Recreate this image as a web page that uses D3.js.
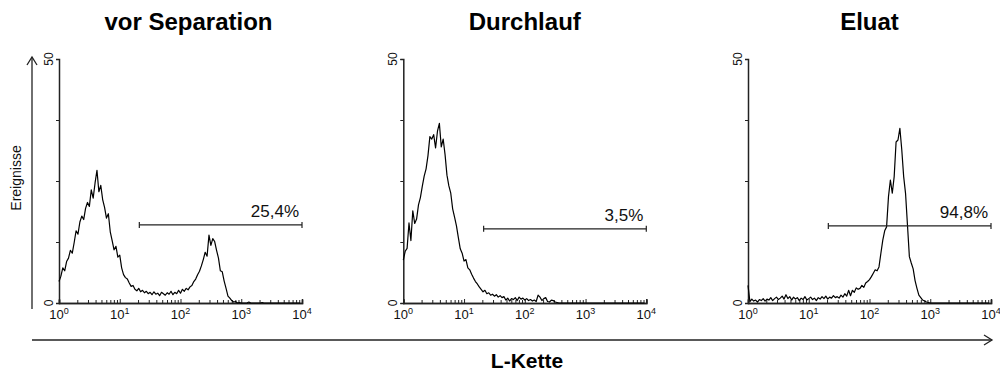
<!DOCTYPE html>
<html>
<head>
<meta charset="utf-8">
<script src="https://cdn.jsdelivr.net/npm/d3@7"></script>
<style>
  html, body { margin: 0; padding: 0; background: #fff; }
  svg { display: block; font-family: "Liberation Sans", Arial, sans-serif; }
</style>
</head>
<body>
<svg id="chart" width="1000" height="372"></svg>
<script>
// Histogram channels: 32 log-spaced channels per decade, 10^0 .. 10^4
const CHANNELS_PER_DECADE = 32;

const panelTitles = ["vor Separation", "Durchlauf", "Eluat"];
const gateLabels = ["25,4%", "3,5%", "94,8%"];
const gateLow = [21, 21, 21];
const gateHigh = [10000, 10000, 10000];
const gateLevel = [16.0, 15.2, 15.8];
const yTickValues = [0, 12.5, 25, 37.5, 50];
const yTickLabels = ["0", "", "", "", "50"];
const xDecades = [0, 1, 2, 3, 4];

// event counts per channel
const countsVor = [
  4.4,5.5,7.2,6.6,8.5,9.2,10.8,10.2,12.4,14.8,
  14.1,16.6,17.8,17.1,19.4,20.6,19.8,23.2,21.5,24.6,
  27.2,22.8,24.1,21.2,19.6,17.4,18.3,14.6,12.8,10.9,
  11.6,9.4,9.8,7.2,5.8,5.2,4.9,4.1,3.4,3.6,
  2.8,2.5,3.0,2.3,2.6,2.1,2.4,1.9,2.2,1.7,
  2.3,1.8,2.0,1.5,2.2,1.9,1.6,2.1,1.8,2.4,
  1.7,2.2,1.9,2.6,2.0,2.8,2.4,3.0,2.7,3.3,
  3.6,4.4,4.9,5.8,6.5,7.6,8.9,10.4,9.6,13.9,
  11.8,13.2,12.6,10.8,9.2,6.6,6.4,4.5,3.0,1.4,
  1.0,0.5,0.2,0.3,0,0.1,0,0,0,0,
  0.2,0,0,0,0,0,0,0.1,0,0,
  0,0,0,0,0,0,0,0,0,0,
  0,0,0,0,0,0,0,0
];

const countsDurchlauf = [
  8.8,10.6,11.2,16.4,12.8,18.9,16.3,17.2,20.1,21.6,
  23.9,26.0,27.5,30.2,34.1,33.6,34.5,31.8,35.2,36.8,
  32.0,33.6,30.4,26.2,24.0,22.5,19.3,17.6,15.8,13.4,
  11.1,10.2,8.6,8.9,7.2,6.8,5.9,5.1,4.4,3.9,
  3.3,2.8,2.3,2.6,1.9,2.1,1.6,1.8,1.4,1.7,
  1.2,1.5,1.1,1.3,0.6,1.0,0.4,0.9,0.7,1.1,
  0.5,1.2,0.8,1.0,0.6,0.9,0.5,0.7,0.4,0.6,
  0.3,1.6,1.2,0.5,0.9,1.1,0.3,0.2,0.6,0.5,
  0.2,0.1,0,0,0,0,0,0,0,0,
  0,0,0,0,0,0,0,0,0,0,
  0,0,0,0,0,0,0,0,0,0,
  0,0,0,0,0,0,0,0,0,0,
  0,0,0,0,0,0,0,0
];

const countsEluat = [
  3.6,0.3,0.8,0.4,0.6,0.2,0.7,0.5,0.9,0.4,
  0.8,0.6,1.1,0.5,0.9,1.2,0.7,1.0,1.4,0.8,
  1.7,0.9,1.3,0.6,1.2,0.8,1.1,0.5,1.0,0.7,
  1.3,0.6,0.9,1.2,0.7,1.0,0.5,1.1,0.8,1.3,
  0.9,1.4,0.8,1.2,1.0,1.5,1.1,1.3,1.0,1.6,
  1.2,1.9,1.4,2.6,1.5,2.6,2.2,3.1,2.8,3.0,
  3.6,3.2,4.1,4.4,4.8,5.4,6.1,6.8,6.6,7.4,
  10.2,12.9,14.8,15.6,21.8,25.2,22.5,25.9,33.0,33.4,
  35.8,31.4,25.9,22.4,16.0,9.5,8.2,7.0,4.6,3.0,
  1.6,1.1,0.6,0.4,0.2,0.1,0,0,0,0,
  0,0,0,0,0,0,0,0,0,0,
  0,0,0,0,0,0,0,0,0,0,
  0,0,0,0,0,0,0,0
];

const panelCounts = [countsVor, countsDurchlauf, countsEluat];

// layout
const panelLeft = [59, 403.3, 748];
const panelWidth = 243;
const plotTop = 59, plotBottom = 303;
const axisColor = "#222";

const svg = d3.select("#chart");

const y = d3.scaleLinear().domain([0, 50]).range([plotBottom, plotTop]);

panelCounts.forEach((counts, p) => {
  const x = d3.scaleLog().domain([1, 1e4]).range([panelLeft[p], panelLeft[p] + panelWidth]);
  const g = svg.append("g");

  // title
  g.append("text")
    .attr("x", panelLeft[p] + panelWidth / 2 + (p === 0 ? 8 : 0))
    .attr("y", 30)
    .attr("text-anchor", "middle")
    .attr("font-size", 24)
    .attr("font-weight", "bold")
    .text(panelTitles[p]);

  // x axis with minor log ticks pointing inward
  const minor = [];
  for (let k = 0; k < 4; k++) for (let m = 2; m <= 9; m++) minor.push(m * 10 ** k);
  const xAxisMinor = d3.axisBottom(x).tickValues(minor).tickSize(-3).tickFormat("");
  const xAxisMajor = d3.axisBottom(x).tickValues(xDecades.map(d => 10 ** d)).tickSize(-4).tickFormat("");
  const gxMinor = g.append("g").attr("transform", `translate(0,${plotBottom})`).call(xAxisMinor);
  const gxMajor = g.append("g").attr("transform", `translate(0,${plotBottom})`).call(xAxisMajor);
  [gxMinor, gxMajor].forEach(a => {
    a.select(".domain").attr("stroke", axisColor).attr("stroke-width", 1.5);
    a.selectAll(".tick line").attr("stroke", axisColor).attr("stroke-width", 1);
  });

  // x tick labels: 10 with superscript exponent
  xDecades.forEach(k => {
    const t = g.append("text")
      .attr("x", x(10 ** k))
      .attr("y", 319)
      .attr("text-anchor", "middle")
      .attr("font-size", 13)
      .attr("fill", "#111");
    t.append("tspan").text("10");
    t.append("tspan").attr("font-size", 9).attr("dy", -5).text(String(k));
  });

  // y axis
  const yAxis = d3.axisLeft(y).tickValues(yTickValues).tickSize(3).tickFormat("");
  const gy = g.append("g").attr("transform", `translate(${panelLeft[p]},0)`).call(yAxis);
  gy.select(".domain").attr("stroke", axisColor).attr("stroke-width", 1.5);
  gy.selectAll(".tick line").attr("stroke", axisColor);
  yTickValues.forEach((v, i) => {
    if (!yTickLabels[i]) return;
    g.append("text")
      .attr("transform", `translate(${panelLeft[p] - 6},${y(v)}) rotate(-90)`)
      .attr("text-anchor", "middle")
      .attr("font-size", 12)
      .attr("fill", "#111")
      .text(yTickLabels[i]);
  });

  // histogram trace
  const line = d3.line()
    .x((d, i) => x(10 ** (i / CHANNELS_PER_DECADE)))
    .y(d => y(d));
  g.append("path")
    .datum(counts)
    .attr("d", line)
    .attr("fill", "none")
    .attr("stroke", "#000")
    .attr("stroke-width", 1.2)
    .attr("stroke-linejoin", "round");

  // marker gate
  const gy0 = y(gateLevel[p]);
  const gx0 = x(gateLow[p]), gx1 = x(gateHigh[p]);
  g.append("line").attr("x1", gx0).attr("x2", gx1).attr("y1", gy0).attr("y2", gy0)
    .attr("stroke", "#222").attr("stroke-width", 1.2);
  [gx0, gx1].forEach(gx => g.append("line")
    .attr("x1", gx).attr("x2", gx).attr("y1", gy0 - 3).attr("y2", gy0 + 3)
    .attr("stroke", "#222").attr("stroke-width", 1.2));
  g.append("text")
    .attr("x", gx1 - 3)
    .attr("y", gy0 - 8)
    .attr("text-anchor", "end")
    .attr("font-size", 17)
    .attr("fill", "#111")
    .text(gateLabels[p]);
});

// shared axis arrows
const arrows = svg.append("g").attr("stroke", "#222").attr("stroke-width", 1.3).attr("fill", "none");
arrows.append("line").attr("x1", 32).attr("x2", 32).attr("y1", 309).attr("y2", 57);
arrows.append("path").attr("d", "M27,65 L32,57 L37,65");
arrows.append("line").attr("x1", 32).attr("x2", 992).attr("y1", 340).attr("y2", 340);
arrows.append("path").attr("d", "M984,335 L992,340 L984,345");

svg.append("text")
  .attr("transform", "translate(21,178) rotate(-90)")
  .attr("text-anchor", "middle")
  .attr("font-size", 14)
  .attr("fill", "#111")
  .text("Ereignisse");

svg.append("text")
  .attr("x", 527)
  .attr("y", 368)
  .attr("text-anchor", "middle")
  .attr("font-size", 21)
  .attr("font-weight", "bold")
  .text("L-Kette");
</script>
</body>
</html>
